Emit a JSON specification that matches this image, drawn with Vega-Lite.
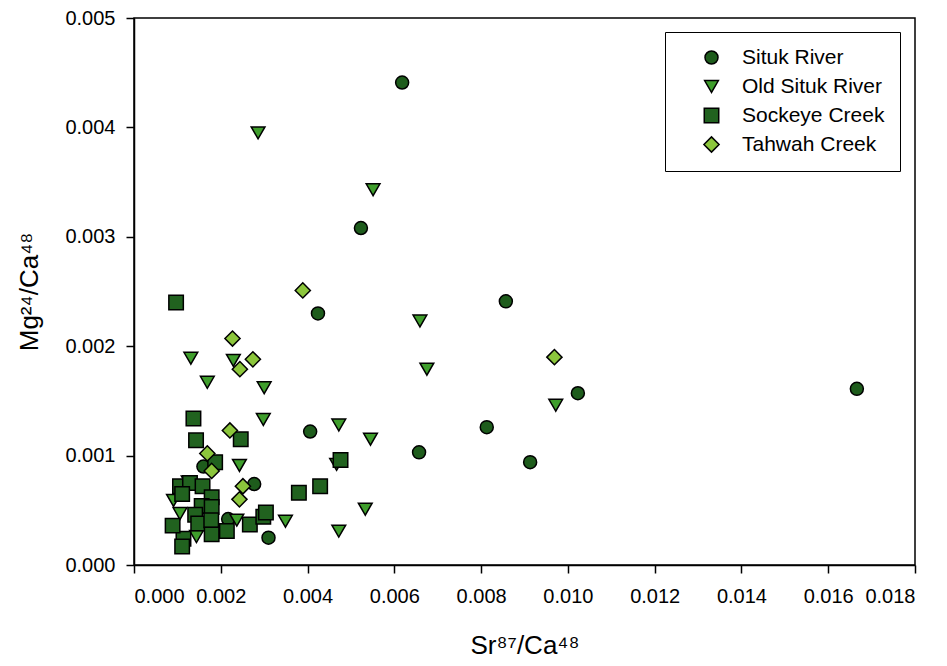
{
  "$schema": "https://vega.github.io/schema/vega-lite/v6.json",
  "autosize": {"type": "none"},
  "width": 781,
  "height": 547,
  "padding": {"left": 134, "top": 18, "right": 32, "bottom": 101},
  "background": "white",
  "config": {
    "font": "Liberation Sans",
    "view": {"stroke": "black", "strokeWidth": 1.5},
    "axis": {
      "grid": false,
      "domainColor": "black",
      "domainWidth": 1.5,
      "tickColor": "black",
      "tickWidth": 1.5,
      "tickSize": 8,
      "labelFont": "Liberation Sans",
      "labelFontSize": 20,
      "labelColor": "black",
      "titleFont": "Liberation Sans",
      "titleFontSize": 26,
      "titleFontWeight": "normal",
      "titleColor": "black"
    }
  },
  "data": {
    "values": [
      {"series": "Situk River", "sr": 0.00618, "mg": 0.00441},
      {"series": "Situk River", "sr": 0.00523, "mg": 0.00308},
      {"series": "Situk River", "sr": 0.00424, "mg": 0.00230},
      {"series": "Situk River", "sr": 0.00857, "mg": 0.00241},
      {"series": "Situk River", "sr": 0.01023, "mg": 0.00157},
      {"series": "Situk River", "sr": 0.01666, "mg": 0.00161},
      {"series": "Situk River", "sr": 0.00406, "mg": 0.00122},
      {"series": "Situk River", "sr": 0.00813, "mg": 0.00126},
      {"series": "Situk River", "sr": 0.00657, "mg": 0.00103},
      {"series": "Situk River", "sr": 0.00913, "mg": 0.00094},
      {"series": "Situk River", "sr": 0.00160, "mg": 0.00090},
      {"series": "Situk River", "sr": 0.00277, "mg": 0.00074},
      {"series": "Situk River", "sr": 0.00217, "mg": 0.00042},
      {"series": "Situk River", "sr": 0.00310, "mg": 0.00025},
      {"series": "Old Situk River", "sr": 0.00286, "mg": 0.00395},
      {"series": "Old Situk River", "sr": 0.00551, "mg": 0.00343},
      {"series": "Old Situk River", "sr": 0.00659, "mg": 0.00223},
      {"series": "Old Situk River", "sr": 0.00675, "mg": 0.00179},
      {"series": "Old Situk River", "sr": 0.00972, "mg": 0.00146},
      {"series": "Old Situk River", "sr": 0.00131, "mg": 0.00189},
      {"series": "Old Situk River", "sr": 0.00229, "mg": 0.00187},
      {"series": "Old Situk River", "sr": 0.00169, "mg": 0.00167},
      {"series": "Old Situk River", "sr": 0.00300, "mg": 0.00162},
      {"series": "Old Situk River", "sr": 0.00298, "mg": 0.00133},
      {"series": "Old Situk River", "sr": 0.00472, "mg": 0.00128},
      {"series": "Old Situk River", "sr": 0.00545, "mg": 0.00115},
      {"series": "Old Situk River", "sr": 0.00467, "mg": 0.00092},
      {"series": "Old Situk River", "sr": 0.00243, "mg": 0.00091},
      {"series": "Old Situk River", "sr": 0.00533, "mg": 0.00051},
      {"series": "Old Situk River", "sr": 0.00349, "mg": 0.00040},
      {"series": "Old Situk River", "sr": 0.00472, "mg": 0.00031},
      {"series": "Old Situk River", "sr": 0.00237, "mg": 0.00041},
      {"series": "Old Situk River", "sr": 0.00091, "mg": 0.00059},
      {"series": "Old Situk River", "sr": 0.00106, "mg": 0.00047},
      {"series": "Old Situk River", "sr": 0.00144, "mg": 0.00026},
      {"series": "Old Situk River", "sr": 0.00125, "mg": 0.00076},
      {"series": "Sockeye Creek", "sr": 0.00097, "mg": 0.00240},
      {"series": "Sockeye Creek", "sr": 0.00137, "mg": 0.00134},
      {"series": "Sockeye Creek", "sr": 0.00246, "mg": 0.00115},
      {"series": "Sockeye Creek", "sr": 0.00143, "mg": 0.00114},
      {"series": "Sockeye Creek", "sr": 0.00187, "mg": 0.00094},
      {"series": "Sockeye Creek", "sr": 0.00476, "mg": 0.00096},
      {"series": "Sockeye Creek", "sr": 0.00429, "mg": 0.00072},
      {"series": "Sockeye Creek", "sr": 0.00380, "mg": 0.00066},
      {"series": "Sockeye Creek", "sr": 0.00106, "mg": 0.00072},
      {"series": "Sockeye Creek", "sr": 0.00129, "mg": 0.00075},
      {"series": "Sockeye Creek", "sr": 0.00158, "mg": 0.00072},
      {"series": "Sockeye Creek", "sr": 0.00111, "mg": 0.00065},
      {"series": "Sockeye Creek", "sr": 0.00179, "mg": 0.00062},
      {"series": "Sockeye Creek", "sr": 0.00156, "mg": 0.00054},
      {"series": "Sockeye Creek", "sr": 0.00179, "mg": 0.00053},
      {"series": "Sockeye Creek", "sr": 0.00141, "mg": 0.00046},
      {"series": "Sockeye Creek", "sr": 0.00148, "mg": 0.00038},
      {"series": "Sockeye Creek", "sr": 0.00178, "mg": 0.00041},
      {"series": "Sockeye Creek", "sr": 0.00179, "mg": 0.00028},
      {"series": "Sockeye Creek", "sr": 0.00114, "mg": 0.00024},
      {"series": "Sockeye Creek", "sr": 0.00111, "mg": 0.00017},
      {"series": "Sockeye Creek", "sr": 0.00089, "mg": 0.00036},
      {"series": "Sockeye Creek", "sr": 0.00214, "mg": 0.00031},
      {"series": "Sockeye Creek", "sr": 0.00267, "mg": 0.00037},
      {"series": "Sockeye Creek", "sr": 0.00298, "mg": 0.00044},
      {"series": "Sockeye Creek", "sr": 0.00304, "mg": 0.00048},
      {"series": "Tahwah Creek", "sr": 0.00389, "mg": 0.00251},
      {"series": "Tahwah Creek", "sr": 0.00227, "mg": 0.00207},
      {"series": "Tahwah Creek", "sr": 0.00274, "mg": 0.00188},
      {"series": "Tahwah Creek", "sr": 0.00244, "mg": 0.00179},
      {"series": "Tahwah Creek", "sr": 0.00969, "mg": 0.00190},
      {"series": "Tahwah Creek", "sr": 0.00221, "mg": 0.00123},
      {"series": "Tahwah Creek", "sr": 0.00169, "mg": 0.00102},
      {"series": "Tahwah Creek", "sr": 0.00179, "mg": 0.00086},
      {"series": "Tahwah Creek", "sr": 0.00251, "mg": 0.00072},
      {"series": "Tahwah Creek", "sr": 0.00243, "mg": 0.00060}
    ]
  },
  "mark": {"type": "point", "filled": true, "stroke": "black", "strokeWidth": 1.5, "opacity": 1},
  "encoding": {
    "x": {
      "field": "sr", "type": "quantitative",
      "scale": {"domain": [0, 0.018], "nice": false, "zero": false},
      "axis": {"values": [0, 0.002, 0.004, 0.006, 0.008, 0.01, 0.012, 0.014, 0.016, 0.018], "format": ".3f", "labelPadding": 13, "titlePadding": 26, "title": "Sr⁸⁷/Ca⁴⁸"}
    },
    "y": {
      "field": "mg", "type": "quantitative",
      "scale": {"domain": [0, 0.005], "nice": false, "zero": false},
      "axis": {"values": [0, 0.001, 0.002, 0.003, 0.004, 0.005], "format": ".3f", "labelPadding": 11, "titlePadding": 22, "title": "Mg²⁴/Ca⁴⁸"}
    },
    "color": {
      "field": "series", "type": "nominal",
      "scale": {"domain": ["Situk River", "Old Situk River", "Sockeye Creek", "Tahwah Creek"], "range": ["#1e5c1c", "#3f9e2c", "#21621f", "#8cc63c"]},
      "legend": {
        "title": null,
        "orient": "none",
        "legendX": 531,
        "legendY": 14,
        "strokeColor": "black",
        "fillColor": "white",
        "padding": 15,
        "symbolOffset": 21,
        "labelOffset": 20,
        "labelFontSize": 21,
        "labelFont": "Liberation Sans",
        "labelColor": "black",
        "rowPadding": 7,
        "symbolSize": 150,
        "symbolStrokeColor": "black",
        "symbolStrokeWidth": 1.5,
        "symbolType": "circle"
      }
    },
    "shape": {
      "field": "series", "type": "nominal",
      "scale": {"domain": ["Situk River", "Old Situk River", "Sockeye Creek", "Tahwah Creek"], "range": ["circle", "triangle-down", "square", "diamond"]}
    },
    "size": {
      "field": "series", "type": "nominal",
      "scale": {"domain": ["Situk River", "Old Situk River", "Sockeye Creek", "Tahwah Creek"], "range": [169, 230, 125, 320]},
      "legend": null
    }
  }
}
